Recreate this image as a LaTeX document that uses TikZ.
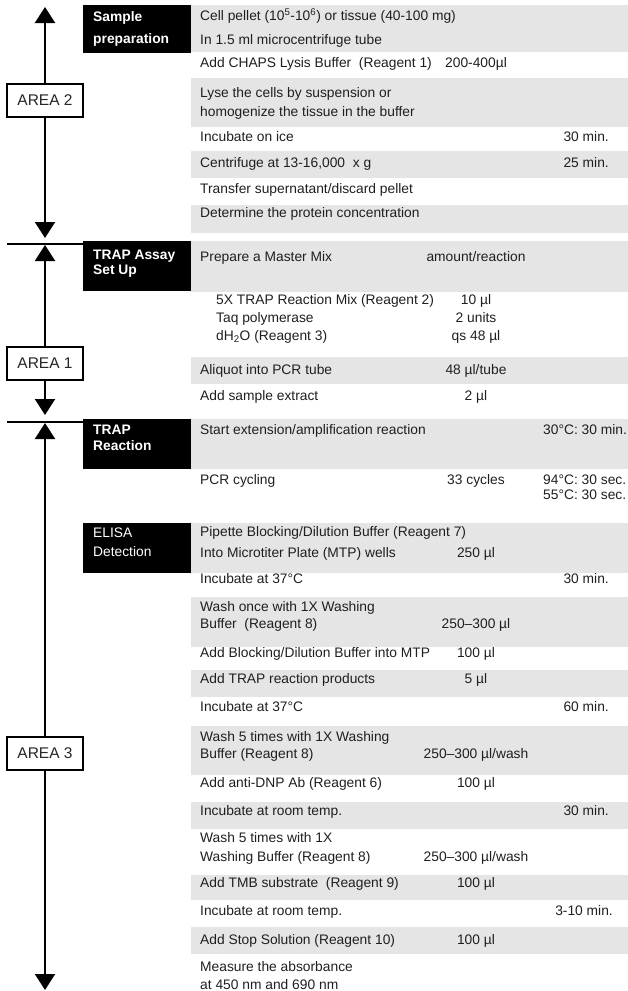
\documentclass[tikz,border=0pt]{standalone}
\usepackage{fontspec}
\setmainfont{Liberation Sans}
\usetikzlibrary{arrows.meta}
\definecolor{rowgrey}{RGB}{229,229,229}
\newcommand{\rowfont}{\fontsize{13.8}{16}\selectfont}
\newcommand{\areafont}{\fontsize{15.5}{18}\selectfont}
\begin{document}
\begin{tikzpicture}[x=1pt,y=-1pt,
  txt/.style={anchor=base west,inner sep=0pt,font=\rowfont,text=black!88},
  val/.style={anchor=base,inner sep=0pt,font=\rowfont,text=black!88},
  tim/.style={anchor=base east,inner sep=0pt,font=\rowfont,text=black!88},
  headbox/.style={fill=black,draw=none,minimum width=108pt,inner sep=0pt},
  headtxt/.style={anchor=base west,inner sep=0pt,text=white,font=\rowfont\bfseries},
  areabox/.style={draw=black,line width=2pt,fill=white,minimum width=76pt,minimum height=33pt,inner sep=0pt,font=\areafont,text=black!85},
  flow/.style={line width=2pt,-{Triangle[width=20pt,length=16pt]}},
  sepline/.style={line width=2pt}]
\useasboundingbox (0,0) rectangle (628,991);
% grey rows
\fill[rowgrey] (191,5) rectangle (628,52);
\fill[rowgrey] (191,78) rectangle (628,127);
\fill[rowgrey] (191,151) rectangle (628,178);
\fill[rowgrey] (191,205) rectangle (628,233);
\fill[rowgrey] (191,241) rectangle (628,292);
\fill[rowgrey] (191,357) rectangle (628,384);
\fill[rowgrey] (191,419) rectangle (628,469);
\fill[rowgrey] (191,523) rectangle (628,573);
\fill[rowgrey] (191,597) rectangle (628,647);
\fill[rowgrey] (191,670) rectangle (628,697);
\fill[rowgrey] (191,726) rectangle (628,775);
\fill[rowgrey] (191,802) rectangle (628,829);
\fill[rowgrey] (191,875) rectangle (628,900);
\fill[rowgrey] (191,927) rectangle (628,954);
% heading boxes
\node[headbox,minimum height=48pt] (hsample) at (137,29) {};
\node[headbox,minimum height=50pt] (hsetup) at (137,266) {};
\node[headbox,minimum height=50pt] (hreact) at (137,444) {};
\node[headbox,minimum height=50pt] (helisa) at (137,548) {};
\node[headtxt] (hs1) at (93,21.5) {Sample};
\node[headtxt] (hs2) at (93,43.5) {preparation};
\node[headtxt] (hu1) at (93,259.5) {TRAP Assay};
\node[headtxt] (hu2) at (93,274.5) {Set Up};
\node[headtxt] (hr1) at (93,434.5) {TRAP};
\node[headtxt] (hr2) at (93,450.5) {Reaction};
\node[headtxt,font=\rowfont] (he1) at (93,537.5) {ELISA};
\node[headtxt,font=\rowfont] (he2) at (93,556.5) {Detection};
% area boxes and arrows
\node[areabox] (area2) at (45,100.5) {AREA 2};
\node[areabox] (area1) at (45,363) {AREA 1};
\node[areabox] (area3) at (45,753.5) {AREA 3};
\coordinate (a2top) at (45,7);
\coordinate (a2bot) at (45,238);
\coordinate (a1top) at (45,245);
\coordinate (a1bot) at (45,415);
\coordinate (a3top) at (45,423);
\coordinate (a3bot) at (45,990);
\coordinate (sep1) at (7,244);
\coordinate (sep2) at (7,422);
\draw[flow] (area2.north) -- (a2top);
\draw[flow] (area2.south) -- (a2bot);
\draw[flow] (area1.north) -- (a1top);
\draw[flow] (area1.south) -- (a1bot);
\draw[flow] (area3.north) -- (a3top);
\draw[flow] (area3.south) -- (a3bot);
\draw[sepline] (sep1) -- (sep1 -| hsetup.west);
\draw[sepline] (sep2) -- (sep2 -| hreact.west);
% Sample preparation
\node[txt] (r1a) at (200,20.5) {Cell pellet (10\textsuperscript{5}-10\textsuperscript{6}) or tissue (40-100 mg)};
\node[txt] (r1b) at (200,44.5) {In 1.5 ml microcentrifuge tube};
\node[txt] (r2) at (200,67.5) {Add CHAPS Lysis Buffer\ \ (Reagent 1)};
\node[val] (r2v) at (476,67.5) {200-400µl};
\node[txt] (r3a) at (200,97.5) {Lyse the cells by suspension or};
\node[txt] (r3b) at (200,116.5) {homogenize the tissue in the buffer};
\node[txt] (r4) at (200,141.5) {Incubate on ice};
\node[tim] (r4t) at (609,141.5) {30 min.};
\node[txt] (r5) at (200,167.5) {Centrifuge at 13-16,000\ \ x g};
\node[tim] (r5t) at (609,167.5) {25 min.};
\node[txt] (r6) at (200,193.5) {Transfer supernatant/discard pellet};
\node[txt] (r7) at (200,217.5) {Determine the protein concentration};
% TRAP assay set up
\node[txt] (s1) at (200,261.5) {Prepare a Master Mix};
\node[val] (s1v) at (476,261.5) {amount/reaction};
\node[txt] (s2a) at (216,304.5) {5X TRAP Reaction Mix (Reagent 2)};
\node[val] (s2av) at (476,304.5) {10 µl};
\node[txt] (s2b) at (216,322.5) {Taq polymerase};
\node[val] (s2bv) at (476,322.5) {2 units};
\node[txt] (s2c) at (216,340.5) {dH\textsubscript{2}O (Reagent 3)};
\node[val] (s2cv) at (476,340.5) {qs 48 µl};
\node[txt] (s3) at (200,374.5) {Aliquot into PCR tube};
\node[val] (s3v) at (476,374.5) {48 µl/tube};
\node[txt] (s4) at (200,400.5) {Add sample extract};
\node[val] (s4v) at (476,400.5) {2 µl};
% TRAP reaction
\node[txt] (p1) at (200,434.5) {Start extension/amplification reaction};
\node[txt] (p1t) at (543,434.5) {30°C: 30 min.};
\node[txt] (p2) at (200,484.5) {PCR cycling};
\node[val] (p2v) at (476,484.5) {33 cycles};
\node[txt] (p2t1) at (543,484.5) {94°C: 30 sec.};
\node[txt] (p2t2) at (543,499.5) {55°C: 30 sec.};
% ELISA detection
\node[txt] (e1a) at (200,536.5) {Pipette Blocking/Dilution Buffer (Reagent 7)};
\node[txt] (e1b) at (200,557.5) {Into Microtiter Plate (MTP) wells};
\node[val] (e1v) at (476,557.5) {250 µl};
\node[txt] (e2) at (200,583.5) {Incubate at 37°C};
\node[tim] (e2t) at (609,583.5) {30 min.};
\node[txt] (e3a) at (200,611.5) {Wash once with 1X Washing};
\node[txt] (e3b) at (200,628.5) {Buffer\ \ (Reagent 8)};
\node[val] (e3v) at (476,628.5) {250–300 µl};
\node[txt] (e4) at (200,657.5) {Add Blocking/Dilution Buffer into MTP};
\node[val] (e4v) at (476,657.5) {100 µl};
\node[txt] (e5) at (200,683.5) {Add TRAP reaction products};
\node[val] (e5v) at (476,683.5) {5 µl};
\node[txt] (e6) at (200,711.5) {Incubate at 37°C};
\node[tim] (e6t) at (609,711.5) {60 min.};
\node[txt] (e7a) at (200,741.5) {Wash 5 times with 1X Washing};
\node[txt] (e7b) at (200,758.5) {Buffer (Reagent 8)};
\node[val] (e7v) at (476,758.5) {250–300 µl/wash};
\node[txt] (e8) at (200,787.5) {Add anti-DNP Ab (Reagent 6)};
\node[val] (e8v) at (476,787.5) {100 µl};
\node[txt] (e9) at (200,815.5) {Incubate at room temp.};
\node[tim] (e9t) at (609,815.5) {30 min.};
\node[txt] (e10a) at (200,842.5) {Wash 5 times with 1X};
\node[txt] (e10b) at (200,861.5) {Washing Buffer (Reagent 8)};
\node[val] (e10v) at (476,861.5) {250–300 µl/wash};
\node[txt] (e11) at (200,887.5) {Add TMB substrate\ \ (Reagent 9)};
\node[val] (e11v) at (476,887.5) {100 µl};
\node[txt] (e12) at (200,915.5) {Incubate at room temp.};
\node[tim] (e12t) at (613,915.5) {3-10 min.};
\node[txt] (e13) at (200,944.5) {Add Stop Solution (Reagent 10)};
\node[val] (e13v) at (476,944.5) {100 µl};
\node[txt] (e14a) at (200,971.5) {Measure the absorbance};
\node[txt] (e14b) at (200,989) {at 450 nm and 690 nm};
\end{tikzpicture}
\end{document}
